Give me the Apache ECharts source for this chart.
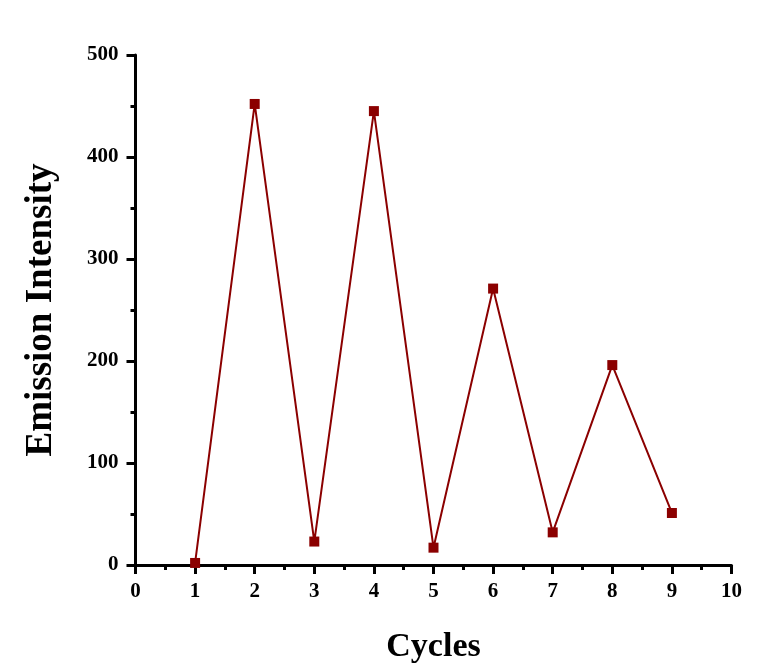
<!DOCTYPE html>
<html>
<head>
<meta charset="utf-8">
<script src="https://cdn.jsdelivr.net/npm/echarts@6/dist/echarts.min.js"></script>
<style>
  html, body { margin: 0; padding: 0; background: #ffffff; }
  #chart { width: 761px; height: 672px; }
</style>
</head>
<body>
<div id="chart"></div>
<script>
// Emission intensity over switching cycles
const cycles = [1, 2, 3, 4, 5, 6, 7, 8, 9];
const intensity = [2, 452, 23, 445, 17, 271, 32, 196, 51];

const seriesData = cycles.map((c, i) => [c, intensity[i]]);

const font = '"Liberation Serif", "Times New Roman", serif';
const axisColor = '#000000';
const markColor = '#8b0000';

const chart = echarts.init(document.getElementById('chart'));
chart.setOption({
  backgroundColor: '#ffffff',
  animation: false,
  grid: { left: 135.5, right: 29.5, top: 55, bottom: 107 },
  xAxis: {
    type: 'value',
    min: 0, max: 10, interval: 1,
    name: 'Cycles',
    nameLocation: 'middle',
    nameGap: 65,
    nameTextStyle: { fontFamily: font, fontWeight: 'bold', fontSize: 34, color: '#000' },
    axisLine: { show: true, onZero: false, lineStyle: { color: axisColor, width: 3 } },
    axisTick: { show: true, inside: false, length: 9, lineStyle: { color: axisColor, width: 3 } },
    minorTick: { show: true, splitNumber: 2, length: 5, lineStyle: { color: axisColor, width: 3 } },
    axisLabel: { fontFamily: font, fontWeight: 'bold', fontSize: 21, color: '#000', margin: 16 },
    splitLine: { show: false }
  },
  yAxis: {
    type: 'value',
    min: 0, max: 500, interval: 100,
    name: 'Emission Intensity',
    nameLocation: 'middle',
    nameGap: 76,
    nameTextStyle: { fontFamily: font, fontWeight: 'bold', fontSize: 37, color: '#000' },
    axisLine: { show: true, onZero: false, lineStyle: { color: axisColor, width: 3 } },
    axisTick: { show: true, inside: false, length: 9, lineStyle: { color: axisColor, width: 3 } },
    minorTick: { show: true, splitNumber: 2, length: 5, lineStyle: { color: axisColor, width: 3 } },
    axisLabel: { fontFamily: font, fontWeight: 'bold', fontSize: 21, color: '#000', margin: 17 },
    splitLine: { show: false }
  },
  series: [{
    type: 'line',
    data: seriesData,
    symbol: 'rect',
    symbolSize: 10,
    showAllSymbol: true,
    lineStyle: { color: markColor, width: 2 },
    itemStyle: { color: markColor },
    z: 3
  }]
});
</script>
</body>
</html>
